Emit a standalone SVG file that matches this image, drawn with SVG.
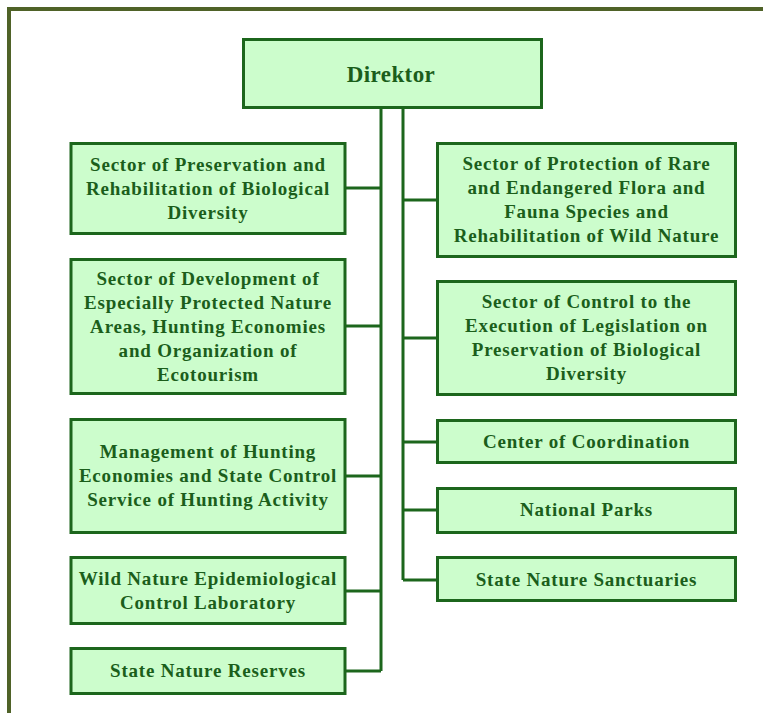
<svg xmlns="http://www.w3.org/2000/svg" width="763" height="713" viewBox="0 0 763 713">
<style>
.box{fill:#ccfdcc;stroke:#1c661c;stroke-width:3}
.t{font-family:"Liberation Serif","Times New Roman",serif;font-weight:bold;font-size:19px;letter-spacing:0.8px;fill:#1b5e1b;text-anchor:middle}
.big{font-size:23px;letter-spacing:0.4px}
.c{fill:none;stroke:#1c661c;stroke-width:3}
</style>
<rect width="763" height="713" fill="#ffffff"/>
<path d="M9,713 V9 H763" fill="none" stroke="#4f6228" stroke-width="4"/>
<g id="connectors" class="c">
<path d="M381,109 V671 M346,188 H381 M346,326 H381 M346,476 H381 M346,591 H381 M346,671 H381"/>
<path d="M403,109 V580 M403,200 H436 M403,338 H436 M403,442 H436 M403,510 H436 M403,580 H436"/>
</g>
<g id="director"><rect class="box" x="243.5" y="39.5" width="298" height="68"/><text class="t big" x="391" y="82">Direktor</text></g>
<g id="l1"><rect class="box" x="71" y="143.5" width="274" height="90"/>
<text class="t" x="208" y="170.5">Sector of Preservation and</text><text class="t" x="208" y="194.5">Rehabilitation of Biological</text><text class="t" x="208" y="218.5">Diversity</text></g>
<g id="l2"><rect class="box" x="71" y="259.5" width="274" height="134"/>
<text class="t" x="208" y="284.5">Sector of Development of</text><text class="t" x="208" y="308.5">Especially Protected Nature</text><text class="t" x="208" y="332.5">Areas, Hunting Economies</text><text class="t" x="208" y="356.5">and Organization of</text><text class="t" x="208" y="380.5">Ecotourism</text></g>
<g id="l3"><rect class="box" x="71" y="419.5" width="274" height="113"/>
<text class="t" x="208" y="458">Management of Hunting</text><text class="t" x="208" y="482">Economies and State Control</text><text class="t" x="208" y="506">Service of Hunting Activity</text></g>
<g id="l4"><rect class="box" x="71" y="557.5" width="274" height="66"/>
<text class="t" x="208" y="585">Wild Nature Epidemiological</text><text class="t" x="208" y="609">Control Laboratory</text></g>
<g id="l5"><rect class="box" x="71" y="648.5" width="274" height="45"/>
<text class="t" x="208" y="677">State Nature Reserves</text></g>
<g id="r1"><rect class="box" x="437.5" y="143.5" width="298" height="113"/>
<text class="t" x="586.5" y="170">Sector of Protection of Rare</text><text class="t" x="586.5" y="194">and Endangered Flora and</text><text class="t" x="586.5" y="218">Fauna Species and</text><text class="t" x="586.5" y="242">Rehabilitation of Wild Nature</text></g>
<g id="r2"><rect class="box" x="437.5" y="281.5" width="298" height="113"/>
<text class="t" x="586.5" y="308">Sector of Control to the</text><text class="t" x="586.5" y="332">Execution of Legislation on</text><text class="t" x="586.5" y="356">Preservation of Biological</text><text class="t" x="586.5" y="380">Diversity</text></g>
<g id="r3"><rect class="box" x="437.5" y="420.5" width="298" height="42"/>
<text class="t" x="586.5" y="448">Center of Coordination</text></g>
<g id="r4"><rect class="box" x="437.5" y="488.5" width="298" height="44"/>
<text class="t" x="586.5" y="516">National Parks</text></g>
<g id="r5"><rect class="box" x="437.5" y="557.5" width="298" height="43"/>
<text class="t" x="586.5" y="586">State Nature Sanctuaries</text></g>
</svg>
